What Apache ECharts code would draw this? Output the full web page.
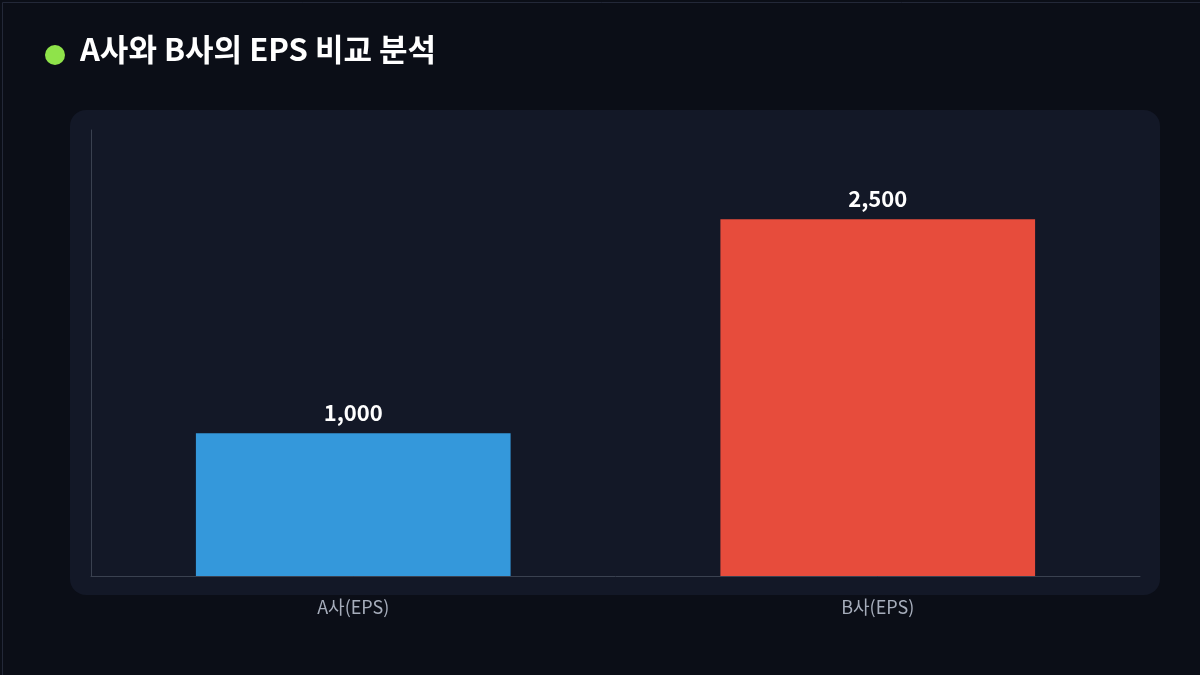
<!DOCTYPE html>
<html><head><meta charset="utf-8">
<script src="https://cdn.jsdelivr.net/npm/echarts@6/dist/echarts.min.js"></script>
<style>html,body{margin:0;padding:0;background:#0b0e17;}#c{width:1200px;height:675px;}</style>
</head><body><div id="c"></div>
<script>
const categories = ['A사(EPS)', 'B사(EPS)'];
const values = [1000, 2500];
const barColors = ['#3498db', '#e74c3c'];
const title = 'A사와 B사의 EPS 비교 분석';

const chart = echarts.init(document.getElementById('c'));
const font = '"Noto Sans CJK KR", "Noto Sans", sans-serif';
chart.setOption({
  backgroundColor: '#0b0e17',
  graphic: [
    {type:'rect', left:0, top:0, shape:{width:1199,height:674}, style:{fill:'none', stroke:'#232838', lineWidth:1}, z:-10},
    {type:'rect', left:70, top:110, shape:{width:1090,height:485,r:16}, style:{fill:'#131827'}, z:-5},
    {type:'circle', left:45, top:45, shape:{r:10}, style:{fill:'#8fe34a'}},
    {type:'text', left:80, top:34, style:{text:title, fill:'#ffffff', font:'bold 31px '+font}}
  ],
  grid: {left:91, right:60, top:130, bottom:99},
  xAxis: {
    type:'category', data:categories,
    axisLine:{lineStyle:{color:'#3a4150'}}, axisTick:{show:false},
    axisLabel:{color:'#a6adbb', fontSize:18, margin:22, fontFamily:font}
  },
  yAxis: {
    type:'value', min:0, max:3125,
    axisLine:{show:true, lineStyle:{color:'#3a4150'}}, axisLabel:{show:false},
    splitLine:{show:false}, axisTick:{show:false}
  },
  series: [{
    type:'bar', barWidth:'60%',
    data: values.map((v,i)=>({value:v, itemStyle:{color:barColors[i]}})),
    label:{show:true, position:'top', distance:10, color:'#ffffff', fontSize:22, fontWeight:'bold', fontFamily:font,
      formatter:p=>p.value.toLocaleString('en-US')}
  }]
});
</script></body></html>
